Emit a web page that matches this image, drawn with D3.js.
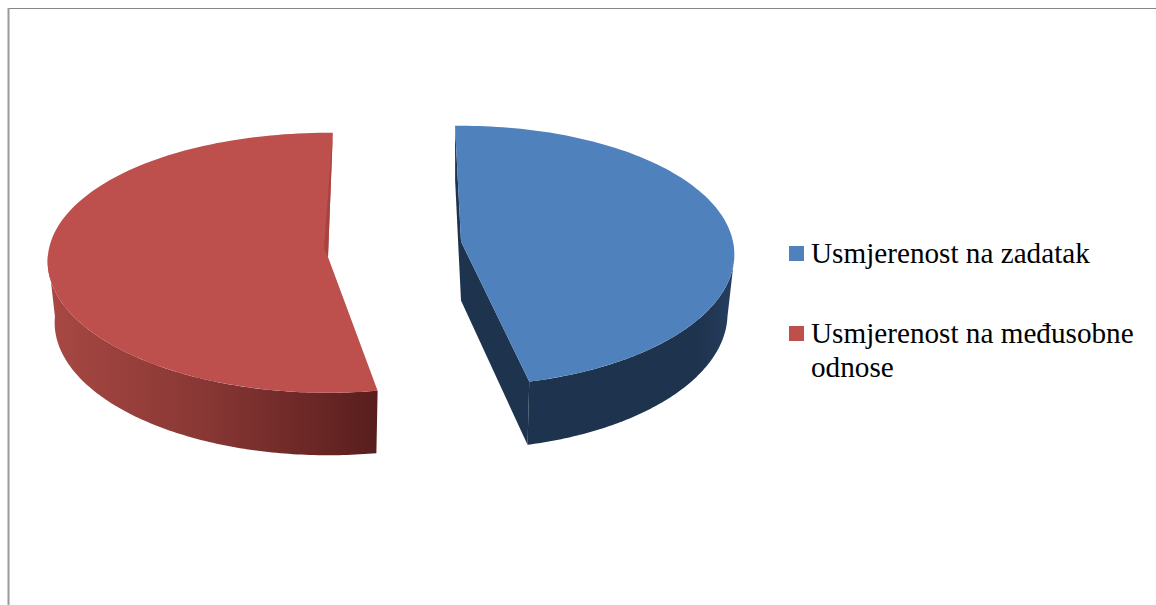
<!DOCTYPE html>
<html lang="en">

<head>
  <meta charset="utf-8">
  <script src="https://d3js.org/d3.v7.min.js"></script>
  <style>
    html, body { margin: 0; padding: 0; background: #fff; overflow: hidden; }
    svg { display: block; }
    .legend text { font-family: "Liberation Serif", serif; font-size: 29.2px; fill: #000; }
  </style>
</head>

<body>
  <svg class="chart" width="1156" height="605"></svg>

  <script>
    const categories = [["Usmjerenost na zadatak"], ["Usmjerenost na međusobne", "odnose"]];
    const values = [46.9, 53.1];

    const colors = ["#4f81bd", "#bd4f4c"];
    const sideStops = [
      [[0, "#1e334d"], [0.82, "#1e334d"], [1, "#263e60"]],
      [[0, "#a84843"], [0.45, "#8a3835"], [1, "#581e1d"]]
    ];
    const faceColor = ["#1d334e", "#a5443f"];

    // each slice is pulled out of the pie and has its own centre
    const slices = [
      { cx: 461, cy: 241.5, r: 272, ry: 130, p: 0.1, q: 0.11, depth: 59, lowY: 1.03, rot: 0.4, apexDy: 0, from: 97, to: 180 },
      { cx: 328, cy: 248.5, r: 279, ry: 130, p: 0.1, q: 0.11, depth: 61, lowY: 1.01, rot: 4.3, apexDy: 8.5, from: 170, to: 267 }
    ];
    const shrink = 0.975;

    const svg = d3.select("svg.chart");
    const defs = svg.append("defs");

    const rad = d => d * Math.PI / 180;
    const pie = d3.pie().sort(null).startAngle(rad(-1.8)).endAngle(rad(356.8));
    const arcs = pie(values);

    function project(s, angle, radius, lower) {
      const u = radius * Math.sin(angle);
      const v = -radius * Math.cos(angle);
      const x = s.r * u * (1 + s.p * v);
      const y = s.ry * v * (1 + s.q * v);
      if (lower) return [s.cx + shrink * x, s.cy + s.depth + s.lowY * y];
      return [s.cx + x, s.cy + y];
    }

    const line = d3.line().curve(d3.curveLinear);
    const closed = pts => line(pts) + "Z";

    function arcPoints(s, a0, a1, lower) {
      const n = 120;
      return d3.range(n + 1).map(i => project(s, a0 + (a1 - a0) * i / n, 1, lower));
    }

    function apex(s, lower) {
      const c = project(s, 0, 0, lower);
      return [c[0], c[1] + s.apexDy];
    }

    arcs.forEach((d, i) => {
      const s = slices[i];
      const a0 = d.startAngle + rad(s.rot);
      const a1 = d.endAngle + rad(s.rot);
      const g = svg.append("g").attr("class", "slice");

      // outer wall, only the part turned to the viewer
      const w0 = Math.max(a0, rad(s.from));
      const w1 = Math.min(a1, rad(s.to));
      const topEdge = arcPoints(s, w0, w1, false);
      const lowEdge = arcPoints(s, w0, w1, true).reverse();
      const xs = d3.extent(topEdge.concat(lowEdge), p => p[0]);

      const grad = defs.append("linearGradient")
        .attr("id", "side" + i)
        .attr("gradientUnits", "userSpaceOnUse")
        .attr("x1", xs[0]).attr("x2", xs[1])
        .attr("y1", 0).attr("y2", 0);
      grad.selectAll("stop").data(sideStops[i]).join("stop")
        .attr("offset", e => e[0])
        .attr("stop-color", e => e[1]);

      // cut faces of the blue slice are seen from the left
      if (i === 0) {
        [a0, a1].forEach(a => {
          g.append("path")
            .attr("d", closed([
              project(s, a, 1, false),
              apex(s, false),
              apex(s, true),
              project(s, a, 1, true)
            ]))
            .attr("fill", faceColor[i]);
        });
      }

      g.append("path")
        .attr("d", closed(topEdge.concat(lowEdge)))
        .attr("fill", `url(#side${i})`);

      // top
      g.append("path")
        .attr("d", closed([apex(s, false)].concat(arcPoints(s, a0, a1, false))))
        .attr("fill", colors[i]);

      // thin darker sliver along the back cut of the red slice
      if (i === 1) {
        const c = project(s, 0, 0, false);
        g.append("path")
          .attr("d", closed([
            project(s, a1, 1, false),
            apex(s, false),
            [c[0] - 4, c[1]]
          ]))
          .attr("fill", faceColor[i]);
      }
    });

    // legend
    const legendY = d3.scaleOrdinal().domain([0, 1]).range([263, 343]);
    const legend = svg.append("g").attr("class", "legend");
    categories.forEach((lines, i) => {
      legend.append("rect")
        .attr("x", 789)
        .attr("y", legendY(i) - 17)
        .attr("width", 15)
        .attr("height", 15)
        .attr("fill", colors[i]);
      const t = legend.append("text").attr("x", 811).attr("y", legendY(i));
      lines.forEach((l, k) => {
        t.append("tspan").attr("x", 811).attr("y", legendY(i) + k * 34).text(l);
      });
    });

    // frame of the pasted chart, only top and left are in the crop
    svg.append("line").attr("x1", 8).attr("x2", 1156).attr("y1", 8.5).attr("y2", 8.5)
      .attr("stroke", "#868686").attr("stroke-width", 1);
    svg.append("line").attr("x1", 8.5).attr("x2", 8.5).attr("y1", 8).attr("y2", 605)
      .attr("stroke", "#9a9a9a").attr("stroke-width", 2);
  </script>
</body>

</html>
